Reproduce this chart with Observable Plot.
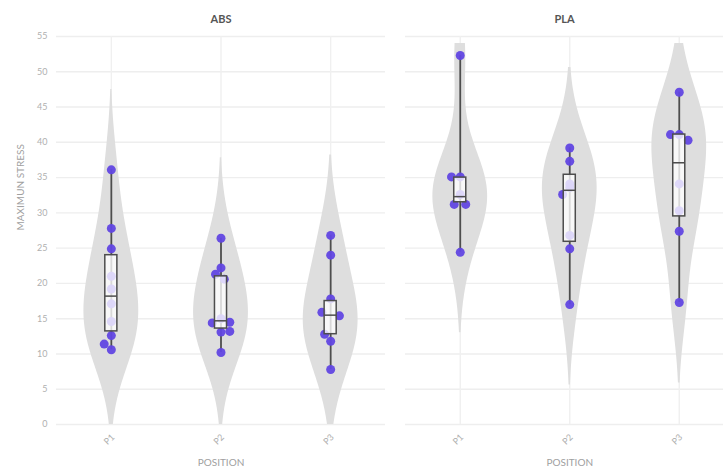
<!DOCTYPE html>
<html>
<head>
<meta charset="utf-8">
<script src="https://cdn.jsdelivr.net/npm/d3@7"></script>
<script src="https://cdn.jsdelivr.net/npm/@observablehq/plot@0.6"></script>
<style>
  html, body { margin: 0; padding: 0; background: #fff; overflow: hidden; }
  #wrap { display: flex; width: 723px; height: 476px; }
  #wrap svg { display: block; }
</style>
</head>
<body>
<div id="wrap"></div>
<script>
// ---- data ----
const materials = ["ABS", "PLA"];
const positions = ["P1", "P2", "P3"];
const yTicks = [0, 5, 10, 15, 20, 25, 30, 35, 40, 45, 50, 55];

// individual specimens (maximum stress)
const absP1 = [36.1, 27.8, 24.9, 21.0, 19.2, 17.1, 14.6, 12.6, 11.4, 10.6];
const absP2 = [26.4, 22.2, 21.3, 20.6, 15.0, 14.4, 14.5, 13.2, 13.1, 10.2];
const absP3 = [26.8, 24.0, 17.8, 15.9, 15.4, 12.8, 11.8, 7.8];
const plaP1 = [52.3, 35.1, 35.1, 32.6, 31.2, 31.2, 24.4];
const plaP2 = [39.2, 37.3, 34.1, 33.6, 32.6, 26.8, 24.9, 17.0];
const plaP3 = [47.1, 41.1, 41.1, 40.3, 34.1, 30.3, 27.4, 17.3];

// horizontal jitter of each point (fraction of category spacing)
const absP1Jitter = [0, 0, 0, 0, 0, 0, 0, 0, -0.065, 0];
const absP2Jitter = [0, 0, -0.05, 0.03, 0, -0.08, 0.08, 0.08, 0, 0];
const absP3Jitter = [0, 0, 0, -0.08, 0.08, -0.055, 0, 0];
const plaP1Jitter = [0, -0.08, 0, 0, -0.055, 0.05, 0];
const plaP2Jitter = [0, 0, 0, 0, -0.065, 0, 0, 0];
const plaP3Jitter = [0, -0.08, 0, 0.08, 0, 0, 0, 0];

// box statistics (P1, P2, P3)
const absQ1 = [13.2, 13.6, 12.8];
const absMedian = [18.2, 14.7, 15.5];
const absQ3 = [24.0, 21.0, 17.5];
const plaQ1 = [31.5, 25.9, 29.5];
const plaMedian = [32.3, 33.2, 37.1];
const plaQ3 = [35.0, 35.4, 41.1];

// ---- build tables ----
function buildGroups(valueSets, jitterSets, q1, med, q3) {
  return valueSets.map((vals, i) => ({
    pos: i,
    vals,
    points: vals.map((v, j) => ({x: i + jitterSets[i][j], v})),
    q1: q1[i], med: med[i], q3: q3[i],
    min: d3.min(vals), max: d3.max(vals)
  }));
}
const absGroups = buildGroups([absP1, absP2, absP3], [absP1Jitter, absP2Jitter, absP3Jitter], absQ1, absMedian, absQ3);
const plaGroups = buildGroups([plaP1, plaP2, plaP3], [plaP1Jitter, plaP2Jitter, plaP3Jitter], plaQ1, plaMedian, plaQ3);

// kernel density for the violin outline
const BANDWIDTH = 5.7, HALF_WIDTH = 0.25, Y_LO = 0, Y_HI = 54;
function violin(g) {
  const lo = Math.max(Y_LO, g.min - 2 * BANDWIDTH);
  const hi = Math.min(Y_HI, g.max + 2 * BANDWIDTH);
  const rows = [];
  const n = 160;
  for (let k = 0; k <= n; k++) {
    const y = lo + (hi - lo) * k / n;
    const d = d3.sum(g.vals, v => Math.exp(-0.5 * ((y - v) / BANDWIDTH) ** 2));
    rows.push({pos: g.pos, y, d});
  }
  const m = d3.max(rows, r => r.d);
  rows.forEach(r => r.w = HALF_WIDTH * r.d / m);
  return rows;
}

const BOX_HALF = 0.055;
const dotColor = "#6146e2";
const ink = "#4d4d4d";

function panel(title, groups, opts) {
  const violins = groups.flatMap(violin);
  const points = groups.flatMap(g => g.points);
  const marks = [
    Plot.gridY(yTicks, {stroke: "#eeeeee", strokeOpacity: 1, strokeWidth: 1.4}),
    Plot.gridX([0, 1, 2], {stroke: "#f0f0f0", strokeOpacity: 1, strokeWidth: 1.4}),
    Plot.areaX(violins, {y: "y", x1: r => r.pos - r.w, x2: r => r.pos + r.w, z: "pos", fill: "#dedede", curve: "linear"}),
    Plot.ruleX(groups, {x: "pos", y1: "min", y2: "max", stroke: ink, strokeWidth: 1.8}),
    Plot.dot(points, {x: "x", y: "v", r: 4.5, fill: dotColor, stroke: "none", fillOpacity: 0.95}),
    Plot.rect(groups, {x1: g => g.pos - BOX_HALF, x2: g => g.pos + BOX_HALF, y1: "q1", y2: "q3",
      fill: "white", fillOpacity: 0.78, stroke: ink, strokeWidth: 1.5}),
    Plot.ruleY(groups, {y: "med", x1: g => g.pos - BOX_HALF, x2: g => g.pos + BOX_HALF, stroke: ink, strokeWidth: 1.5}),
    Plot.text(positions, {x: (d, i) => i, text: d => d, frameAnchor: "bottom", dy: 17, rotate: -45,
      fill: "#b0b0b0", fontSize: 9}),
    Plot.text(["POSITION"], {x: () => 1, text: d => d, frameAnchor: "bottom", dy: 41,
      fill: "#a0a0a0", fontSize: 10}),
    Plot.text([title], {text: d => d, frameAnchor: "top", dy: -21, fill: "#555", fontSize: 11, fontWeight: "bold"})
  ];
  if (opts.yAxis) {
    marks.push(Plot.axisY({ticks: yTicks, tickSize: 0, tickPadding: 9, color: "#b0b0b0", fontSize: 9, label: null}));
    marks.push(Plot.text(["MAXIMUN STRESS"], {text: d => d, frameAnchor: "left", dx: -36, rotate: -90,
      fill: "#a0a0a0", fontSize: 10}));
  }
  return Plot.plot({
    width: opts.width,
    height: 476,
    marginTop: 36,
    marginBottom: 52,
    marginLeft: opts.marginLeft,
    marginRight: opts.marginRight,
    x: {domain: opts.xDomain, axis: null},
    y: {domain: [0, 55], axis: null},
    style: {fontFamily: "Lato, 'Open Sans', sans-serif", background: "white", overflow: "visible"},
    marks
  });
}

const wrap = document.getElementById("wrap");
wrap.append(panel(materials[0], absGroups, {width: 395, marginLeft: 56, marginRight: 10, xDomain: [-0.5, 2.5], yAxis: true}));
wrap.append(panel(materials[1], plaGroups, {width: 328, marginLeft: 10, marginRight: 0, xDomain: [-0.5, 2.404], yAxis: false}));
</script>
</body>
</html>
